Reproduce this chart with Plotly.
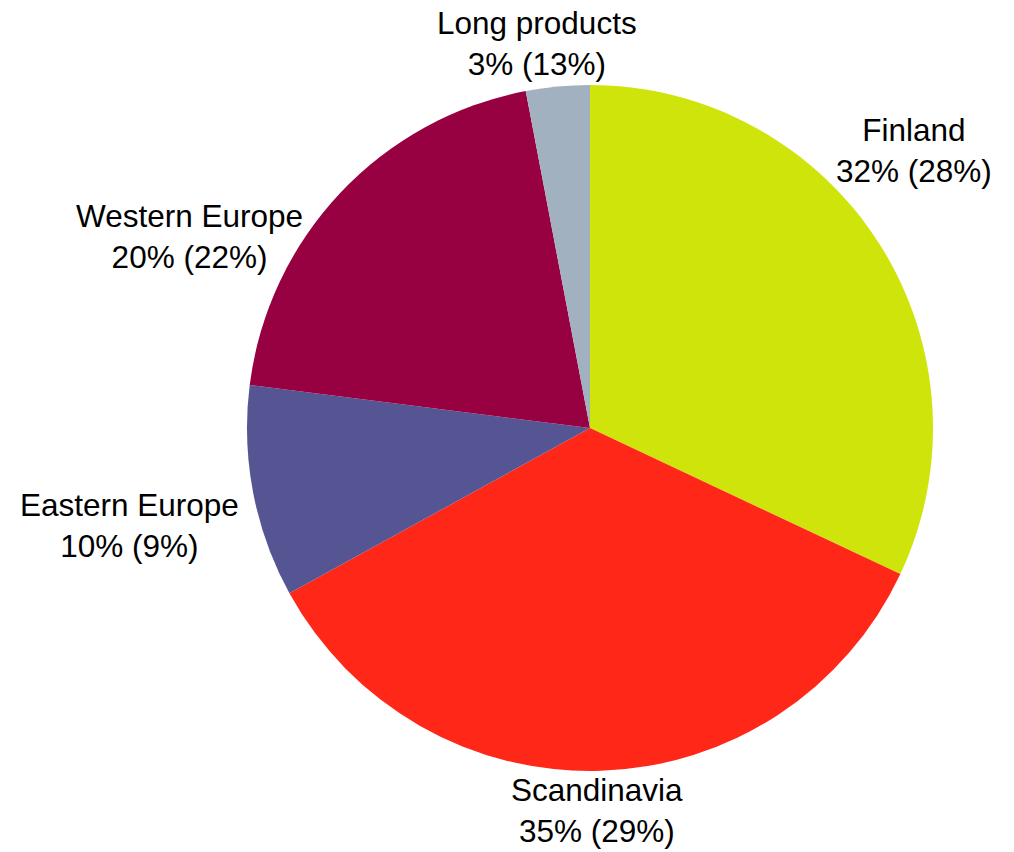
import plotly.graph_objects as go

# Sales split by market: current share and, in parentheses, the earlier share
markets = ["Finland", "Scandinavia", "Eastern Europe", "Western Europe", "Long products"]
share_now = [32, 35, 10, 20, 3]
share_prev = [28, 29, 9, 22, 13]
colors = ["#CEE40A", "#FE2718", "#555593", "#970041", "#A1B1BF"]

# Label anchor points (pixels in the 1014x852 canvas)
label_px = [(914, 150), (597, 810), (129, 525), (189, 237), (537, 43)]

W, H = 1014, 852
cx, cy, r = 590, 428, 343

fig = go.Figure(go.Pie(
    labels=markets,
    values=share_now,
    marker=dict(colors=colors, line=dict(width=0)),
    sort=False,
    direction="clockwise",
    rotation=0,
    textinfo="none",
    hoverinfo="label+value",
    domain=dict(x=[(cx - r) / W, (cx + r) / W], y=[1 - (cy + r) / H, 1 - (cy - r) / H]),
    showlegend=False,
))

for name, now, prev, (px, py) in zip(markets, share_now, share_prev, label_px):
    fig.add_annotation(
        x=px / W, y=1 - py / H, xref="paper", yref="paper",
        text=f"{name}<br>{now}% ({prev}%)",
        showarrow=False, xanchor="center", yanchor="middle",
        font=dict(family="Liberation Sans, Arial, sans-serif", size=31.5, color="#000000"),
    )

fig.update_layout(
    width=W, height=H,
    margin=dict(l=0, r=0, t=0, b=0),
    paper_bgcolor="white", plot_bgcolor="white",
)

fig.write_html("out.html")
